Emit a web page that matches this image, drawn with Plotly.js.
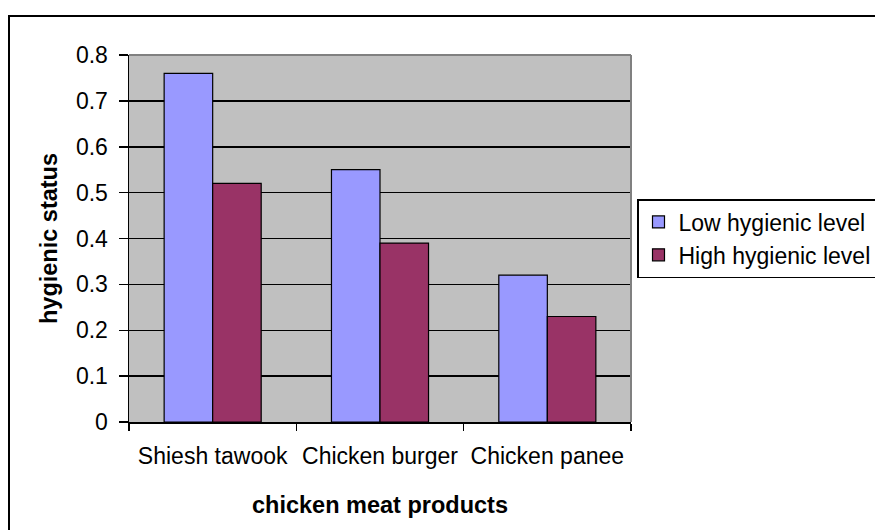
<!DOCTYPE html>
<html>
<head>
<meta charset="utf-8">
<script src="https://cdn.plot.ly/plotly-3.0.1.min.js"></script>
<style>
html,body{margin:0;padding:0;background:#fff;overflow:hidden;width:875px;height:530px;}
#chart{width:920px;height:530px;}
</style>
</head>
<body>
<div id="chart"></div>
<script>
var categories = ["Shiesh tawook", "Chicken burger", "Chicken panee"];
var seriesNames = ["Low hygienic level", "High hygienic level"];
var lowValues = [0.76, 0.55, 0.32];
var highValues = [0.52, 0.39, 0.23];
var yTickValues = [0, 0.1, 0.2, 0.3, 0.4, 0.5, 0.6, 0.7, 0.8];
var yTickLabels = ["0", "0.1", "0.2", "0.3", "0.4", "0.5", "0.6", "0.7", "0.8"];

var FONT = "Liberation Sans, Arial, sans-serif";
var W = 920, H = 530, L = 129, R = 289, T = 55, B = 108;
var pw = W - L - R, ph = H - T - B;
function px(x){ return (x - L) / pw; }
function py(y){ return (H - B - y) / ph; }

var traces = [
  {type: "bar", name: seriesNames[0], x: categories, y: lowValues,
   marker: {color: "#9999FF", line: {color: "#000000", width: 1.2}}},
  {type: "bar", name: seriesNames[1], x: categories, y: highValues,
   marker: {color: "#993366", line: {color: "#000000", width: 1.2}}}
];

var layout = {
  width: W, height: H,
  margin: {l: L, r: R, t: T, b: B, pad: 0},
  paper_bgcolor: "#ffffff",
  plot_bgcolor: "#C0C0C0",
  font: {family: FONT, size: 23, color: "#000000"},
  barmode: "group",
  bargap: 0.42,
  bargroupgap: 0,
  showlegend: true,
  legend: {
    x: px(637), y: py(199), xanchor: "left", yanchor: "top",
    bgcolor: "#ffffff", bordercolor: "#000000", borderwidth: 1.5,
    font: {family: FONT, size: 23, color: "#000000"},
    itemwidth: 30, tracegroupgap: 0
  },
  xaxis: {
    type: "category",
    showline: true, linecolor: "#000000", linewidth: 1.5,
    ticks: "outside", tickson: "boundaries", ticklen: 7, tickcolor: "#000000", tickwidth: 1.5,
    ticklabelstandoff: 13,
    showgrid: false, zeroline: false,
    tickfont: {family: FONT, size: 23, color: "#000000"},
    title: {text: "<b>chicken meat products</b>", font: {family: FONT, size: 23.5, color: "#000000"}, standoff: 28},
    automargin: false
  },
  yaxis: {
    range: [0, 0.8],
    tickvals: yTickValues, ticktext: yTickLabels,
    showline: true, linecolor: "#000000", linewidth: 1.5,
    ticks: "outside", ticklen: 9, tickcolor: "#000000", tickwidth: 1.5,
    ticklabelstandoff: 6,
    showgrid: true, gridcolor: "#000000", gridwidth: 1.5,
    zeroline: false,
    tickfont: {family: FONT, size: 23, color: "#000000"},
    title: {text: "<b>hygienic status</b>", font: {family: FONT, size: 23.5, color: "#000000"}, standoff: 11},
    automargin: false
  },
  shapes: [
    {type: "line", xref: "paper", yref: "paper", x0: 0, x1: 1, y0: 1, y1: 1,
     line: {color: "#808080", width: 2}},
    {type: "line", xref: "paper", yref: "paper", x0: 1, x1: 1, y0: 0, y1: 1,
     line: {color: "#808080", width: 2}},
    {type: "rect", xref: "paper", yref: "paper",
     x0: px(9), x1: px(915), y0: py(560), y1: py(16),
     line: {color: "#000000", width: 2}, fillcolor: "rgba(0,0,0,0)"}
  ]
};

Plotly.newPlot("chart", traces, layout, {displayModeBar: false, staticPlot: true});
</script>
</body>
</html>
